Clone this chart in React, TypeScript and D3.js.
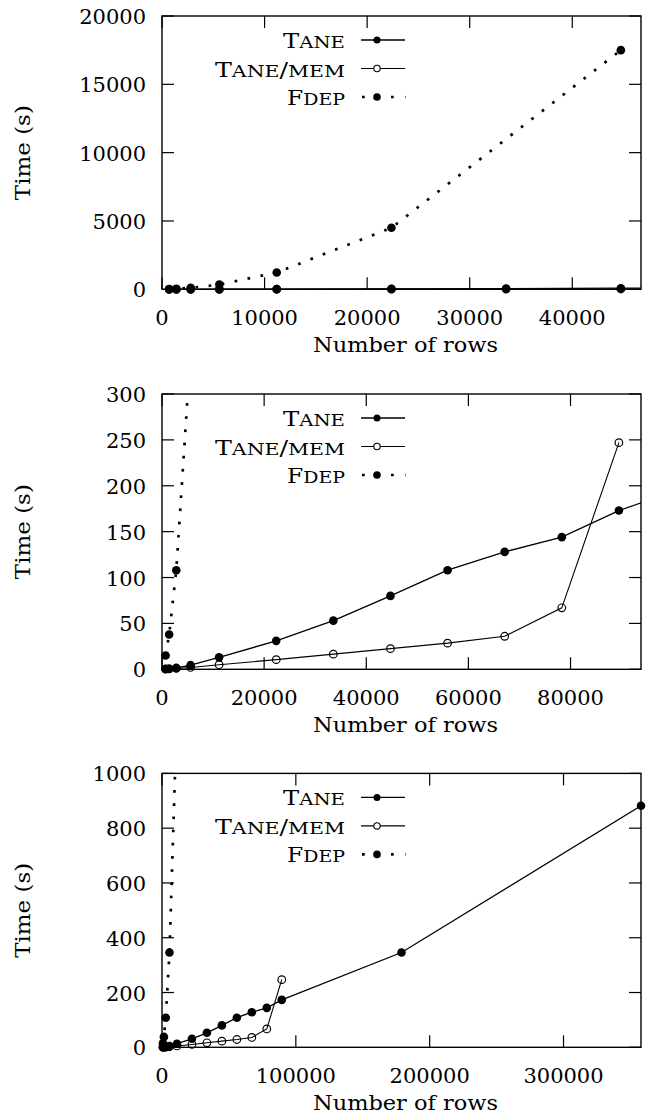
import React from "react";
import * as d3 from "d3";

// ---- data ----
const ROWS = [699, 1398, 2796, 5592, 11184, 22368, 33552, 44736, 55920, 67104, 78288, 89472, 178944, 357888];
const TANE = [0.3, 0.6, 1.5, 4.5, 13, 31, 53, 80, 108, 128, 144, 173, 346, 882];
const TANE_MEM_ROWS = [699, 1398, 2796, 5592, 11184, 22368, 33552, 44736, 55920, 67104, 78288, 89472];
const TANE_MEM = [0.3, 0.5, 1, 2, 5, 10.5, 16.5, 22.5, 28.5, 36, 67, 247];
const FDEP_ROWS = [699, 1398, 2796, 5592, 11184, 22368, 44736];
const FDEP = [15, 38, 108, 346, 1230, 4500, 17500];

const X_MAX = [46700, 93800, 357888];
const Y_MAX = [20000, 300, 1000];
const X_TICKS = [
  [0, 10000, 20000, 30000, 40000],
  [0, 20000, 40000, 60000, 80000],
  [0, 100000, 200000, 300000],
];
const Y_TICKS = [
  [0, 5000, 10000, 15000, 20000],
  [0, 50, 100, 150, 200, 250, 300],
  [0, 200, 400, 600, 800, 1000],
];

const LEFT = 162;
const RIGHT = 641;
const TOPS = [16, 394, 773.4];
const BOTTOMS = [289.3, 669.3, 1047.3];
const FONT = "DejaVu Serif, serif";
const FS = 21;
const SC = 17;
const TICK = 12;

type Pt = [number, number];

function zip(xs: number[], ys: number[]): Pt[] {
  return xs.map((x, i) => [x, ys[i]] as Pt);
}

function Panel({ idx }: { idx: number }) {
  const top = TOPS[idx];
  const bottom = BOTTOMS[idx];
  const x = d3.scaleLinear().domain([0, X_MAX[idx]]).range([LEFT, RIGHT]);
  const y = d3.scaleLinear().domain([0, Y_MAX[idx]]).range([bottom, top]);
  const line = d3
    .line<Pt>()
    .x((d) => x(d[0]))
    .y((d) => y(d[1]));
  const inRange = (d: Pt) => d[0] >= 0 && d[0] <= X_MAX[idx] * 1.0001 && d[1] >= 0 && d[1] <= Y_MAX[idx] * 1.0001;
  const tane = zip(ROWS, TANE);
  const taneMem = zip(TANE_MEM_ROWS, TANE_MEM);
  const fdep = zip(FDEP_ROWS, FDEP);
  const clipId = `clip${idx}`;
  const cx = (LEFT + RIGHT) / 2;
  const cy = (top + bottom) / 2;
  const legendRows = [top + 24, top + 52.5, top + 81];
  const textRight = 345;
  const txt = { fontFamily: FONT, fill: "#000" } as const;
  return (
    <g>
      <defs>
        <clipPath id={clipId}>
          <rect x={LEFT} y={top} width={RIGHT - LEFT} height={bottom - top} />
        </clipPath>
      </defs>
      {/* ticks */}
      {X_TICKS[idx].map((t) => (
        <g key={"xt" + t}>
          <line x1={x(t)} x2={x(t)} y1={bottom} y2={bottom - TICK} stroke="#000" strokeWidth={1.2} />
          <line x1={x(t)} x2={x(t)} y1={top} y2={top + TICK} stroke="#000" strokeWidth={1.2} />
          <text x={x(t)} y={bottom + 36} textAnchor="middle" style={{ ...txt, fontSize: FS }}>
            {t}
          </text>
        </g>
      ))}
      {Y_TICKS[idx].map((t) => (
        <g key={"yt" + t}>
          <line x1={LEFT} x2={LEFT + TICK} y1={y(t)} y2={y(t)} stroke="#000" strokeWidth={1.2} />
          <line x1={RIGHT} x2={RIGHT - TICK} y1={y(t)} y2={y(t)} stroke="#000" strokeWidth={1.2} />
          <text x={146} y={y(t) + 8} textAnchor="end" style={{ ...txt, fontSize: FS }}>
            {t}
          </text>
        </g>
      ))}
      {/* frame */}
      <rect x={LEFT} y={top} width={RIGHT - LEFT} height={bottom - top} fill="none" stroke="#000" strokeWidth={1.4} />
      {/* axis titles */}
      <text
        x={cx + 4}
        y={bottom + 63}
        textAnchor="middle"
        style={{ ...txt, fontSize: FS }}
        textLength={185}
        lengthAdjust="spacingAndGlyphs"
      >
        Number of rows
      </text>
      <text
        transform={`translate(29.5,${cy}) rotate(-90)`}
        textAnchor="middle"
        style={{ ...txt, fontSize: FS }}
        textLength={95}
        lengthAdjust="spacingAndGlyphs"
      >
        Time (s)
      </text>
      {/* series lines */}
      <g clipPath={`url(#${clipId})`}>
        <path d={line(tane) || ""} fill="none" stroke="#000" strokeWidth={1.3} />
        <path d={line(taneMem) || ""} fill="none" stroke="#000" strokeWidth={1.1} />
        <path d={line(fdep) || ""} fill="none" stroke="#000" strokeWidth={2.7} strokeDasharray="2.7 10.5" />
      </g>
      {/* markers */}
      {tane.filter(inRange).map((d, i) => (
        <circle key={"t" + i} cx={x(d[0])} cy={y(d[1])} r={4.3} fill="#000" />
      ))}
      {taneMem.filter(inRange).map((d, i) => (
        <circle key={"m" + i} cx={x(d[0])} cy={y(d[1])} r={3.8} fill="none" stroke="#000" strokeWidth={1.2} />
      ))}
      {fdep.filter(inRange).map((d, i) => (
        <circle key={"f" + i} cx={x(d[0])} cy={y(d[1])} r={4.3} fill="#000" />
      ))}
      {/* legend */}
      <text x={textRight} y={legendRows[0] + 8} textAnchor="end" style={{ ...txt, fontSize: FS }} textLength={62} lengthAdjust="spacingAndGlyphs">
        T<tspan style={{ fontSize: SC }}>ANE</tspan>
      </text>
      <line x1={361} x2={405} y1={legendRows[0]} y2={legendRows[0]} stroke="#000" strokeWidth={1.3} />
      <circle cx={377} cy={legendRows[0]} r={3.5} fill="#000" />
      <text x={textRight} y={legendRows[1] + 8} textAnchor="end" style={{ ...txt, fontSize: FS }} textLength={130} lengthAdjust="spacingAndGlyphs">
        T<tspan style={{ fontSize: SC }}>ANE</tspan>/<tspan style={{ fontSize: SC }}>MEM</tspan>
      </text>
      <line x1={361} x2={405} y1={legendRows[1]} y2={legendRows[1]} stroke="#000" strokeWidth={1.1} />
      <circle cx={377} cy={legendRows[1]} r={3.2} fill="#fff" stroke="#000" strokeWidth={1.1} />
      <text x={textRight} y={legendRows[2] + 8} textAnchor="end" style={{ ...txt, fontSize: FS }} textLength={58} lengthAdjust="spacingAndGlyphs">
        F<tspan style={{ fontSize: SC }}>DEP</tspan>
      </text>
      <line x1={362} x2={406} y1={legendRows[2]} y2={legendRows[2]} stroke="#000" strokeWidth={2.7} strokeDasharray="2.7 11.8" />
      <circle cx={377} cy={legendRows[2]} r={3.8} fill="#000" />
    </g>
  );
}

export default function App() {
  return (
    <svg
      width={650}
      height={1116}
      viewBox="0 0 650 1116"
      style={{ position: "absolute", left: 0, top: 0, background: "#fff" }}
    >
      <rect x={0} y={0} width={650} height={1116} fill="#fff" />
      {[0, 1, 2].map((i) => (
        <Panel key={i} idx={i} />
      ))}
    </svg>
  );
}
